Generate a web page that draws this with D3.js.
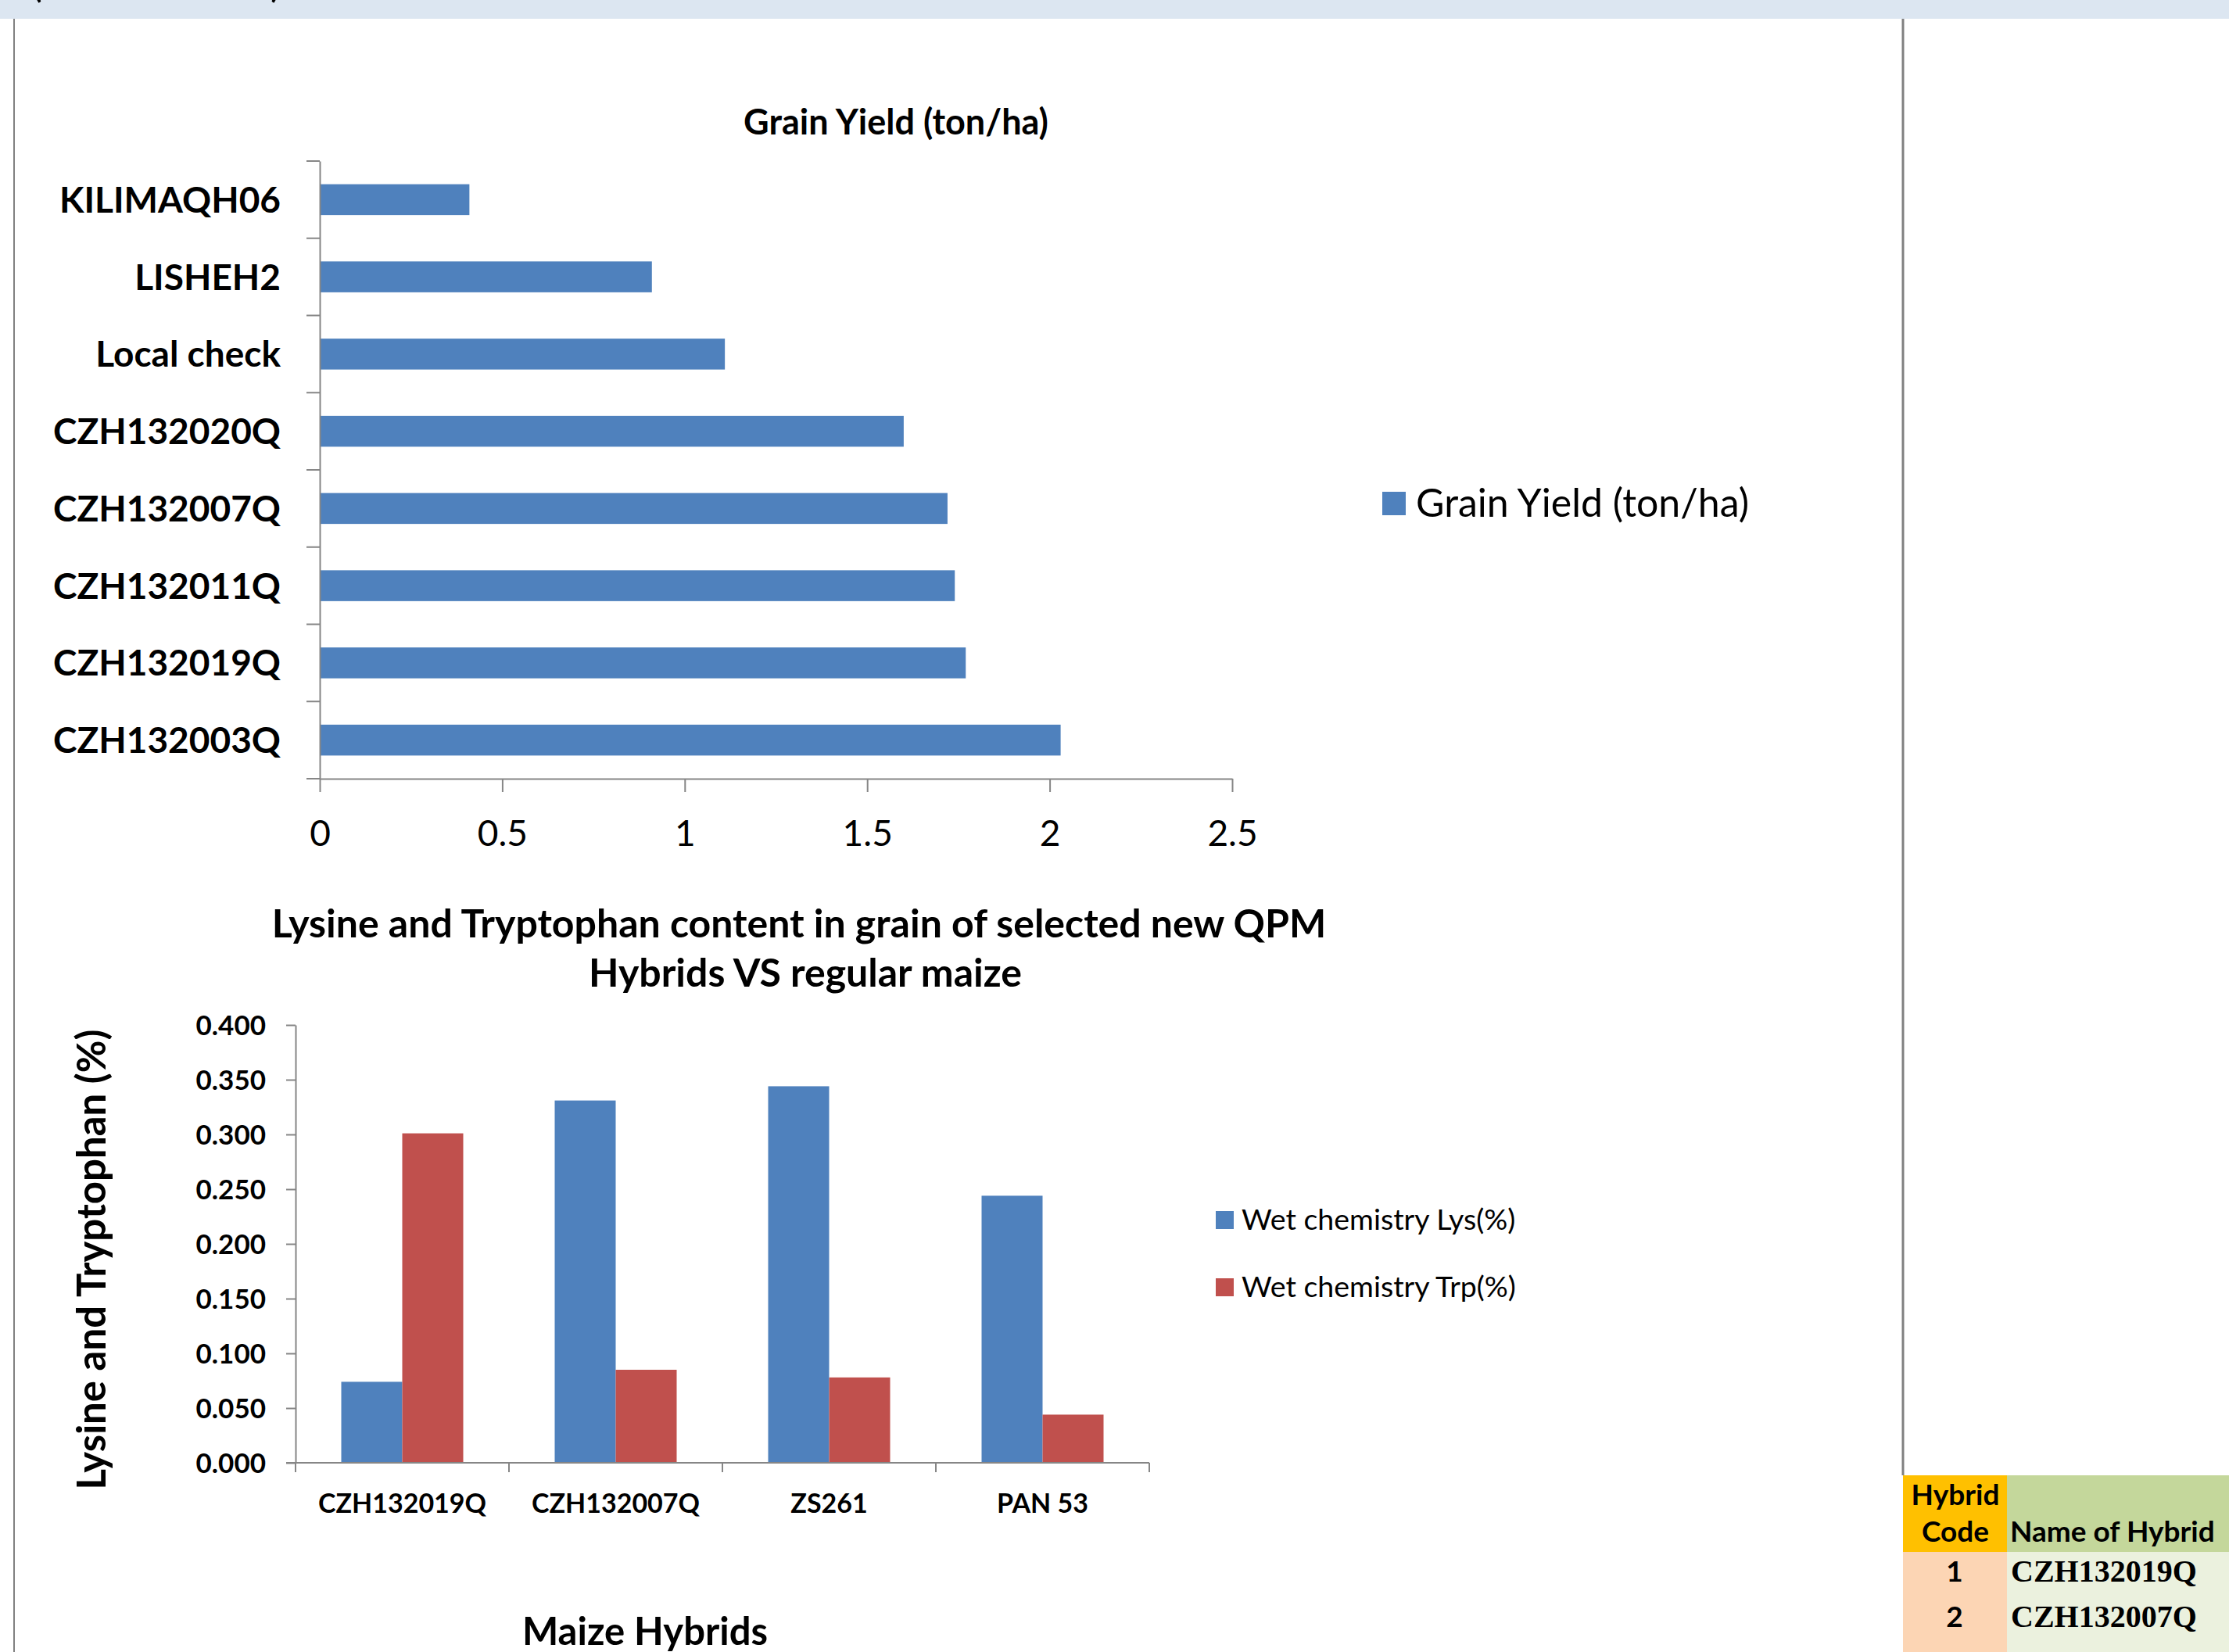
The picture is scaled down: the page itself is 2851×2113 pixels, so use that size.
<!DOCTYPE html>
<html>
<head>
<meta charset="utf-8">
<script src="https://cdn.jsdelivr.net/npm/d3@7"></script>
<style>
  body { margin: 0; background: #fff; }
  text { font-family: Lato, 'Open Sans', sans-serif; fill: #000; }
</style>
</head>
<body>
<div id="app"></div>
<script>
'use strict'

// grain yield chart
const yieldHybrids = ['KILIMAQH06', 'LISHEH2', 'Local check', 'CZH132020Q', 'CZH132007Q', 'CZH132011Q', 'CZH132019Q', 'CZH132003Q']
const grainYield = [0.41, 0.91, 1.11, 1.60, 1.72, 1.74, 1.77, 2.03]
const yieldTicks = [0, 0.5, 1, 1.5, 2, 2.5]

// lysine / tryptophan chart
const qpmHybrids = ['CZH132019Q', 'CZH132007Q', 'ZS261', 'PAN 53']
const lysine = [0.074, 0.331, 0.344, 0.244]
const tryptophan = [0.301, 0.085, 0.078, 0.044]
const seriesNames = ['Wet chemistry Lys(%)', 'Wet chemistry Trp(%)']
const contentTicks = [0, 0.05, 0.1, 0.15, 0.2, 0.25, 0.3, 0.35, 0.4]

// little sheet table in the corner
const hybridCodes = ['1', '2']
const hybridNames = ['CZH132019Q', 'CZH132007Q']

const width = 2851
const height = 2113
const blue = '#4F81BD'
const red = '#C0504D'
const axisColor = '#868686'

const svg = d3.select('#app').append('svg')
  .attr('width', width)
  .attr('height', height)
  .style('display', 'block')

/*
 * Spreadsheet bits around the charts
 */
svg.append('rect')
  .attr('width', width).attr('height', 24)
  .attr('fill', '#DCE6F1')

svg.append('text').attr('x', 40).attr('y', -4).style('font-size', '52px').text('(')
svg.append('text').attr('x', 346).attr('y', -4).style('font-size', '52px').text(')')

svg.append('line')
  .attr('x1', 18).attr('x2', 18).attr('y1', 24).attr('y2', height)
  .attr('stroke', '#808080').attr('stroke-width', 2)

svg.append('line')
  .attr('x1', 2434).attr('x2', 2434).attr('y1', 24).attr('y2', 1887)
  .attr('stroke', '#808080').attr('stroke-width', 3)

/*
 * Grain yield (horizontal bars)
 */
const yieldChart = svg.append('g')

const x1 = d3.scaleLinear()
  .domain([0, 2.5])
  .range([409, 1576])

const y1 = d3.scaleBand()
  .domain(yieldHybrids)
  .range([206, 996])
  .paddingInner(0.6)
  .paddingOuter(0.3)

yieldChart.selectAll('.yield-bar')
  .data(grainYield)
  .enter().append('rect')
  .attr('class', 'yield-bar')
  .attr('x', x1(0))
  .attr('y', (d, i) => y1(yieldHybrids[i]))
  .attr('width', d => x1(d) - x1(0))
  .attr('height', y1.bandwidth())
  .attr('fill', blue)

const xAxis1 = yieldChart.append('g')
  .attr('transform', `translate(0, ${y1.range()[1]})`)
  .call(d3.axisBottom(x1).tickValues(yieldTicks).tickSize(17).tickSizeOuter(0).tickFormat(d => d))
xAxis1.select('.domain').attr('stroke', axisColor).attr('stroke-width', 2)
xAxis1.selectAll('.tick line').attr('stroke', axisColor).attr('stroke-width', 2)
xAxis1.selectAll('text')
  .attr('y', 86).attr('dy', 0)
  .style('font-size', '46px')

const yAxis1 = yieldChart.append('g')
  .attr('transform', `translate(${x1(0)}, 0)`)
  .call(d3.axisLeft(y1).tickSize(0).tickPadding(50))
yAxis1.select('.domain').attr('stroke', axisColor).attr('stroke-width', 2)
yAxis1.selectAll('text')
  .attr('dy', '0.36em')
  .style('font-size', '46px')
  .style('font-weight', 700)

// excel puts the category ticks between the bars
yieldChart.selectAll('.cat-tick')
  .data(d3.range(yieldHybrids.length + 1))
  .enter().append('line')
  .attr('class', 'cat-tick')
  .attr('x1', x1(0) - 17).attr('x2', x1(0))
  .attr('y1', i => y1.range()[0] + i * y1.step())
  .attr('y2', i => y1.range()[0] + i * y1.step())
  .attr('stroke', axisColor).attr('stroke-width', 2)

yieldChart.append('text')
  .attr('x', 1146).attr('y', 172)
  .attr('text-anchor', 'middle')
  .style('font-size', '45px')
  .style('font-weight', 700)
  .text('Grain Yield (ton/ha)')

yieldChart.append('rect')
  .attr('x', 1768).attr('y', 629).attr('width', 30).attr('height', 30)
  .attr('fill', blue)
yieldChart.append('text')
  .attr('x', 1811).attr('y', 661)
  .style('font-size', '50px')
  .text('Grain Yield (ton/ha)')

/*
 * Lysine and tryptophan (grouped columns)
 */
const contentChart = svg.append('g')
const series = [lysine, tryptophan]
const colors = [blue, red]

const x2 = d3.scaleBand()
  .domain(qpmHybrids)
  .range([378, 1470])
  .paddingInner(3 / 7)
  .paddingOuter(1.5 / 7)

const xSub = d3.scaleBand()
  .domain([0, 1])
  .range([0, x2.bandwidth()])

const y2 = d3.scaleLinear()
  .domain([0, 0.4])
  .range([1871, 1311])

contentChart.selectAll('.series')
  .data(series)
  .enter().append('g')
  .attr('class', 'series')
  .attr('fill', (d, i) => colors[i])
  .each(function(values, s) {
    d3.select(this).selectAll('rect')
      .data(values)
      .enter().append('rect')
      .attr('x', (d, i) => x2(qpmHybrids[i]) + xSub(s))
      .attr('y', d => y2(d))
      .attr('width', xSub.bandwidth())
      .attr('height', d => y2(0) - y2(d))
  })

const yAxis2 = contentChart.append('g')
  .attr('transform', `translate(${x2.range()[0]}, 0)`)
  .call(d3.axisLeft(y2).tickValues(contentTicks).tickSize(12).tickSizeOuter(0).tickPadding(26).tickFormat(d3.format('.3f')))
yAxis2.select('.domain').attr('stroke', axisColor).attr('stroke-width', 2)
yAxis2.selectAll('.tick line').attr('stroke', axisColor).attr('stroke-width', 2)
yAxis2.selectAll('text')
  .attr('dy', '0.36em')
  .style('font-size', '35px')
  .style('font-weight', 700)

const xAxis2 = contentChart.append('g')
  .attr('transform', `translate(0, ${y2(0)})`)
  .call(d3.axisBottom(x2).tickSize(0).tickSizeOuter(0))
xAxis2.select('.domain').remove()
xAxis2.selectAll('text')
  .attr('y', 64).attr('dy', 0)
  .style('font-size', '34px')
  .style('font-weight', 700)

contentChart.append('line')
  .attr('x1', x2.range()[0] - 12).attr('x2', x2.range()[1])
  .attr('y1', y2(0)).attr('y2', y2(0))
  .attr('stroke', axisColor).attr('stroke-width', 2)

contentChart.selectAll('.cat-tick')
  .data(d3.range(qpmHybrids.length + 1))
  .enter().append('line')
  .attr('class', 'cat-tick')
  .attr('x1', i => x2.range()[0] + i * x2.step())
  .attr('x2', i => x2.range()[0] + i * x2.step())
  .attr('y1', y2(0)).attr('y2', y2(0) + 12)
  .attr('stroke', axisColor).attr('stroke-width', 2)

const title2 = contentChart.append('text')
  .attr('text-anchor', 'middle')
  .style('font-size', '50px')
  .style('font-weight', 700)
title2.append('tspan').attr('x', 1022).attr('y', 1199)
  .text('Lysine and Tryptophan content in grain of selected new QPM')
title2.append('tspan').attr('x', 1030).attr('y', 1262)
  .text('Hybrids VS regular maize')

contentChart.append('text')
  .attr('transform', 'translate(135, 1611) rotate(-90)')
  .attr('text-anchor', 'middle')
  .style('font-size', '51px')
  .style('font-weight', 700)
  .text('Lysine and Tryptophan (%)')

contentChart.append('text')
  .attr('x', 825).attr('y', 2104)
  .attr('text-anchor', 'middle')
  .style('font-size', '49px')
  .style('font-weight', 700)
  .text('Maize Hybrids')

const legend2 = contentChart.selectAll('.legend')
  .data(seriesNames)
  .enter().append('g')
  .attr('class', 'legend')
  .attr('transform', (d, i) => `translate(1555, ${1549 + i * 86})`)
legend2.append('rect')
  .attr('width', 23).attr('height', 23)
  .attr('fill', (d, i) => colors[i])
legend2.append('text')
  .attr('x', 33).attr('y', 24)
  .style('font-size', '37.5px')
  .text(d => d)

/*
 * Hybrid code table
 */
const table = svg.append('g')
table.append('rect').attr('x', 2434).attr('y', 1887).attr('width', 133).attr('height', 98).attr('fill', '#FFC000')
table.append('rect').attr('x', 2567).attr('y', 1887).attr('width', 284).attr('height', 98).attr('fill', '#C4D79B')
table.append('rect').attr('x', 2434).attr('y', 1985).attr('width', 133).attr('height', 128).attr('fill', '#FCD5B4')
table.append('rect').attr('x', 2567).attr('y', 1985).attr('width', 284).attr('height', 128).attr('fill', '#EBF1DE')

const head = table.append('text')
  .attr('text-anchor', 'middle')
  .style('font-size', '37px')
  .style('font-weight', 700)
head.append('tspan').attr('x', 2501).attr('y', 1925).text('Hybrid')
head.append('tspan').attr('x', 2501).attr('y', 1972).text('Code')

table.append('text')
  .attr('x', 2571).attr('y', 1972)
  .style('font-size', '37px')
  .style('font-weight', 700)
  .text('Name of Hybrid')

table.selectAll('.code')
  .data(hybridCodes)
  .enter().append('text')
  .attr('class', 'code')
  .attr('x', 2500)
  .attr('y', (d, i) => 2023 + i * 58)
  .attr('text-anchor', 'middle')
  .style('font-size', '37px')
  .style('font-weight', 700)
  .text(d => d)

table.selectAll('.name')
  .data(hybridNames)
  .enter().append('text')
  .attr('class', 'name')
  .attr('x', 2572)
  .attr('y', (d, i) => 2023 + i * 58)
  .style('font-family', "'Liberation Serif', 'DejaVu Serif', serif")
  .style('font-size', '40px')
  .style('font-weight', 700)
  .text(d => d)
</script>
</body>
</html>
